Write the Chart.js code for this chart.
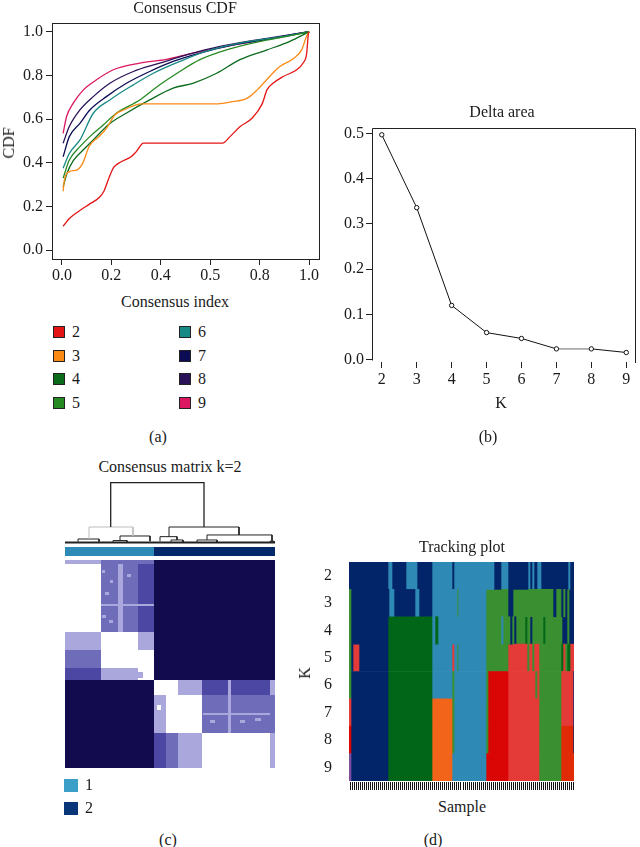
<!DOCTYPE html>
<html>
<head>
<meta charset="utf-8">
<script src="https://cdn.jsdelivr.net/npm/chart.js@4.4.0/dist/chart.umd.min.js"></script>
<style>
  body { margin: 0; background: #fff; width: 640px; height: 847px; position: relative; overflow: hidden;
         font-family: "Liberation Serif", "DejaVu Serif", serif; color: #1a1a1a; }
  canvas { position: absolute; }
  .t { position: absolute; font-size: 16px; white-space: nowrap; transform: translate(-50%, -50%); line-height: 1; }
  .sw { position: absolute; box-sizing: border-box; }
</style>
</head>
<body>

<canvas id="cdfChart" width="330" height="290" style="left:0;top:0"></canvas>
<canvas id="deltaChart" width="310" height="320" style="left:330px;top:100px"></canvas>
<canvas id="dendChart" width="210" height="68" style="left:65px;top:478px"></canvas>
<canvas id="heatChart" width="210" height="225" style="left:65px;top:545px"></canvas>
<canvas id="trackChart" width="330" height="240" style="left:310px;top:555px"></canvas>

<div class="t" style="left:185px;top:8px">Consensus CDF</div>
<div class="t" style="left:9px;top:143px;transform:translate(-50%,-50%) rotate(-90deg)">CDF</div>
<div class="t" style="left:175px;top:302px">Consensus index</div>
<div class="t" style="left:158px;top:437px">(a)</div>

<div class="t" style="left:502px;top:112px">Delta area</div>
<div class="t" style="left:501px;top:403px">K</div>
<div class="t" style="left:488px;top:437px">(b)</div>

<div class="t" style="left:170px;top:467px">Consensus matrix k=2</div>
<div class="t" style="left:168px;top:840px">(c)</div>

<div class="t" style="left:462px;top:547px">Tracking plot</div>
<div class="t" style="left:305px;top:673px;transform:translate(-50%,-50%) rotate(-90deg)">K</div>
<div class="t" style="left:462px;top:807px">Sample</div>
<div class="t" style="left:433px;top:840px">(d)</div>

<div id="legendA"></div>
<div id="legendC"></div>

<script>
// ---- panel (a): consensus CDF, [consensus index, CDF]
const kLabels = ['2', '3', '4', '5', '6', '7', '8', '9'];
const cdfColors = ['#e41414', '#fb8a14', '#0b6b1d', '#258a22', '#178a85', '#0c0c55', '#2a1259', '#dc1660'];

const cdf2 = [[0.005,0.11],[0.03,0.145],[0.07,0.18],[0.11,0.21],[0.15,0.24],[0.17,0.27],[0.19,0.33],[0.21,0.38],
  [0.24,0.405],[0.28,0.428],[0.30,0.45],[0.33,0.49],[0.65,0.49],[0.68,0.52],[0.72,0.565],[0.77,0.605],[0.81,0.67],
  [0.83,0.735],[0.855,0.765],[0.895,0.795],[0.95,0.826],[0.975,0.856],[0.99,0.90],[0.997,0.99],[1,1]];
const cdf3 = [[0.005,0.27],[0.01,0.32],[0.03,0.36],[0.06,0.367],[0.085,0.40],[0.11,0.475],[0.15,0.52],[0.18,0.558],
  [0.215,0.62],[0.25,0.642],[0.30,0.665],[0.32,0.67],[0.63,0.67],[0.69,0.68],[0.75,0.696],[0.79,0.734],[0.84,0.795],
  [0.88,0.84],[0.94,0.88],[0.97,0.917],[0.99,0.98],[1,1]];
const cdf4 = [[0.005,0.29],[0.02,0.35],[0.046,0.41],[0.087,0.46],[0.127,0.505],[0.194,0.58],[0.26,0.627],[0.355,0.688],
  [0.45,0.742],[0.53,0.764],[0.626,0.81],[0.72,0.872],[0.83,0.917],[0.92,0.955],[1,1]];
const cdf5 = [[0.005,0.33],[0.03,0.413],[0.073,0.474],[0.113,0.52],[0.167,0.573],[0.22,0.627],[0.315,0.688],[0.396,0.757],
  [0.477,0.818],[0.558,0.872],[0.666,0.917],[0.80,0.955],[0.91,0.979],[1,1]];
const cdf6 = [[0.005,0.375],[0.03,0.443],[0.073,0.505],[0.127,0.627],[0.194,0.688],[0.289,0.757],[0.37,0.81],[0.477,0.864],
  [0.585,0.911],[0.72,0.948],[0.896,0.979],[1,1]];
const cdf7 = [[0.005,0.428],[0.03,0.52],[0.073,0.581],[0.113,0.642],[0.18,0.703],[0.261,0.764],[0.355,0.818],[0.45,0.864],
  [0.558,0.902],[0.694,0.94],[0.855,0.97],[1,1]];
const cdf8 = [[0.005,0.49],[0.03,0.566],[0.073,0.642],[0.127,0.703],[0.194,0.764],[0.289,0.818],[0.396,0.856],[0.504,0.894],
  [0.64,0.933],[0.83,0.97],[1,1]];
const cdf9 = [[0.005,0.535],[0.019,0.612],[0.046,0.673],[0.087,0.734],[0.14,0.78],[0.208,0.826],[0.315,0.856],[0.423,0.874],
  [0.531,0.902],[0.666,0.933],[0.83,0.966],[1,1]];
const cdfSeries = [cdf2, cdf3, cdf4, cdf5, cdf6, cdf7, cdf8, cdf9];
const cdfXTicks = [0, 0.2, 0.4, 0.6, 0.8, 1.0];
const cdfXTickLabels = ['0.0', '0.2', '0.4', '0.5', '0.8', '1.0'];
const cdfYTicks = [0, 0.2, 0.4, 0.6, 0.8, 1.0];

// ---- panel (b): delta area
const deltaK = [2, 3, 4, 5, 6, 7, 8, 9];
const deltaArea = [0.497, 0.336, 0.12, 0.06, 0.047, 0.024, 0.024, 0.016];
const deltaYTicks = [0, 0.1, 0.2, 0.3, 0.4, 0.5];

// ---- panel (c): consensus matrix, blocks in sample order
const clusterLabels = ['1', '2'];
const clusterColors = ['#2e8bb8', '#04296a'];
const clusterLegendColors = ['#3c9fc8', '#083679'];
const clusterBreaks = [0, 89, 210];
const heatColBreaks = [0, 36, 73, 89, 101, 113, 137, 205, 210];
const heatRowBreaks = [0, 4, 72, 90, 108, 120, 135, 173, 208];
// consensus level per block: 0 none .. 4 full
const heatLevels = [
  [1, 2, 2, 4, 4, 4, 4, 4],
  [0, 2, 3, 4, 4, 4, 4, 4],
  [1, 0, 1, 4, 4, 4, 4, 4],
  [2, 0, 0, 4, 4, 4, 4, 4],
  [3, 1, 0, 4, 4, 4, 4, 4],
  [4, 4, 4, 0, 0, 1, 3, 1],
  [4, 4, 4, 1, 0, 0, 2, 2],
  [4, 4, 4, 3, 2, 1, 0, 1]
];
// small patches inside blocks: [x0, x1, y0, y1, level]
const heatPatches = [
  [53, 58, 4, 72, 1], [36, 89, 44, 46, 1], [37, 40, 10, 13, 1], [45, 48, 20, 23, 1], [37, 41, 55, 58, 1],
  [44, 48, 60, 63, 1], [40, 44, 32, 35, 1], [62, 66, 14, 17, 1], [138, 205, 153, 155, 1], [163, 166, 120, 173, 1],
  [145, 150, 160, 163, 1], [175, 180, 160, 163, 1], [190, 196, 158, 161, 1], [92, 96, 145, 150, 0], [70, 78, 112, 118, 1]
];
const heatLevelColors = ['#ffffff', '#a9a7dc', '#6f6cba', '#4b47a2', '#120c4f'];
// dendrogram merges: [xLeft, xRight, height, leftChildHeight, rightChildHeight]
const dendMerges = [
  [45.7, 139, 1.0, 0.265, 0.265],
  [24, 68, 0.265, 0.066, 0.116],
  [104, 174, 0.265, 0.105, 0.133],
  [13, 34, 0.066, 0.02, 0.02],
  [55, 85, 0.116, 0.04, 0.03],
  [48, 62, 0.04, 0.01, 0.01],
  [95, 112, 0.105, 0.03, 0.05],
  [106, 118, 0.05, 0.02, 0.01],
  [142, 207, 0.133, 0.05, 0.03],
  [132, 152, 0.05, 0.01, 0.01],
  [205, 209, 0.03, 0.01, 0.01]
];
const dendGrey = [false, true, false, false, false, false, false, false, false, false, false];

// ---- panel (d): tracking plot, runs of cluster membership along sample order
const trackColors = { N: '#02256a', B: '#2e89b4', G: '#026618', g: '#3a8f30', O: '#f26419',
                      R: '#da0505', r: '#e43a38', Q: '#e12a06', P: '#7b4f9d' };
const sampleCount = 112;
const trackSegments = [
  [[0,39,'N'],[39,43,'B'],[43,57,'N'],[57,68,'B'],[68,83,'N'],[83,103,'B'],[103,105,'N'],[105,145,'B'],[145,152,'N'],
   [152,159,'B'],[159,179,'N'],[179,181,'B'],[181,183,'N'],[183,185,'B'],[185,188,'N'],[188,192,'B'],[192,219,'N'],
   [219,221,'B'],[221,225,'N']],
  [[0,2,'g'],[2,40,'N'],[40,45,'B'],[45,66,'N'],[66,70,'B'],[70,83,'N'],[83,108,'B'],[108,109,'g'],[109,137,'B'],
   [137,159,'g'],[159,164,'N'],[164,204,'g'],[204,207,'N'],[207,212,'g'],[212,214,'N'],[214,216,'g'],[216,218,'N'],
   [218,220,'g'],[220,225,'N']],
  [[0,2,'g'],[2,39,'N'],[39,83,'G'],[83,86,'B'],[86,89,'G'],[89,137,'B'],[137,152,'g'],[152,154,'B'],[154,161,'g'],
   [161,163,'N'],[163,165,'g'],[165,167,'N'],[167,176,'g'],[176,178,'G'],[178,181,'g'],[181,183,'N'],[183,194,'g'],
   [194,196,'G'],[196,213,'g'],[213,218,'N'],[218,220,'g'],[220,225,'N']],
  [[0,2,'g'],[2,4,'N'],[4,10,'r'],[10,39,'N'],[39,83,'G'],[83,103,'B'],[103,105,'r'],[105,108,'B'],[108,109,'g'],
   [109,137,'B'],[137,159,'g'],[159,178,'r'],[178,180,'g'],[180,183,'r'],[183,185,'g'],[185,190,'r'],[190,212,'g'],
   [212,214,'G'],[214,216,'r'],[216,218,'g'],[218,221,'G'],[221,225,'r']],
  [[0,2,'g'],[2,39,'N'],[39,83,'G'],[83,103,'B'],[103,105,'g'],[105,137,'B'],[137,139,'g'],[139,159,'R'],[159,186,'r'],
   [186,188,'g'],[188,190,'r'],[190,212,'g'],[212,224,'r'],[224,225,'N']],
  [[0,2,'r'],[2,39,'N'],[39,83,'G'],[83,103,'O'],[103,105,'g'],[105,137,'B'],[137,139,'g'],[139,159,'R'],[159,190,'r'],
   [190,212,'g'],[212,224,'r'],[224,225,'N']],
  [[0,2,'R'],[2,39,'N'],[39,83,'G'],[83,103,'O'],[103,105,'g'],[105,137,'B'],[137,139,'g'],[139,159,'R'],[159,190,'r'],
   [190,212,'g'],[212,224,'Q'],[224,225,'N']],
  [[0,2,'P'],[2,39,'N'],[39,83,'G'],[83,103,'O'],[103,137,'B'],[137,159,'R'],[159,190,'r'],[190,212,'g'],[212,225,'Q']]
];
const trackMax = 225;

const serif = "'Liberation Serif', 'DejaVu Serif', serif";
const tickFont = { family: serif, size: 16 };
const ink = '#1a1a1a';

// keep chart areas where the layout padding puts them
const fitY = w => s => { s.width = w; s.paddingTop = 0; s.paddingBottom = 0; };
const fitX = h => s => { s.height = h; s.paddingLeft = 0; s.paddingRight = 0; };

// legends
const legA = document.getElementById('legendA');
kLabels.forEach((k, i) => {
  const col = Math.floor(i / 4), row = i % 4;
  const x = 53 + col * 126, y = 326 + row * 23.6;
  legA.insertAdjacentHTML('beforeend',
    `<div class="sw" style="left:${x}px;top:${y}px;width:12px;height:12px;border:1px solid #222;background:${cdfColors[i]}"></div>` +
    `<div class="t" style="left:${x + 23}px;top:${y + 6}px">${k}</div>`);
});
const legC = document.getElementById('legendC');
clusterLabels.forEach((k, i) => {
  const y = 779 + i * 23;
  legC.insertAdjacentHTML('beforeend',
    `<div class="sw" style="left:64px;top:${y}px;width:14px;height:13px;background:${clusterLegendColors[i]}"></div>` +
    `<div class="t" style="left:89px;top:${y + 6}px">${k}</div>`);
});

const boxPlugin = {
  id: 'box',
  afterDraw(chart) {
    const { ctx, chartArea: a } = chart;
    ctx.save();
    ctx.strokeStyle = '#222';
    ctx.lineWidth = 1;
    ctx.strokeRect(Math.round(a.left) + 0.5, Math.round(a.top) + 0.5, Math.round(a.right - a.left), Math.round(a.bottom - a.top));
    ctx.restore();
  }
};

// (a)
new Chart(document.getElementById('cdfChart'), {
  type: 'scatter',
  data: {
    datasets: cdfSeries.map((pts, i) => ({
      label: kLabels[i],
      data: pts.map(p => ({ x: p[0], y: p[1] })),
      showLine: true,
      borderColor: cdfColors[i],
      borderWidth: 1.3,
      pointRadius: 0,
      cubicInterpolationMode: 'monotone'
    }))
  },
  options: {
    responsive: false,
    animation: false,
    layout: { padding: { top: 23, right: 11, bottom: 6, left: 0 } },
    plugins: { legend: { display: false }, tooltip: { enabled: false } },
    scales: {
      x: {
        type: 'linear', min: -0.04, max: 1.04,
        afterBuildTicks: s => { s.ticks = cdfXTicks.map(v => ({ value: v })); },
        afterFit: fitX(25),
        grid: { drawOnChartArea: false, tickLength: 6, color: '#222' },
        border: { display: false },
        ticks: { callback: (v, i) => cdfXTickLabels[i], color: ink, font: tickFont, padding: 1, maxRotation: 0 }
      },
      y: {
        type: 'linear', min: -0.04, max: 1.04,
        afterBuildTicks: s => { s.ticks = cdfYTicks.map(v => ({ value: v })); },
        afterFit: fitY(52),
        grid: { drawOnChartArea: false, tickLength: 6, color: '#222' },
        border: { display: false },
        ticks: { callback: v => v.toFixed(1), color: ink, font: tickFont, padding: 3 }
      }
    }
  },
  plugins: [boxPlugin]
});

// (b)
const frameB = {
  id: 'frameB',
  afterDraw(chart) {
    const { ctx, chartArea: a, scales: { y } } = chart;
    const l = Math.round(a.left) + 0.5, t = Math.round(a.top) + 0.5, r = Math.round(a.right) + 0.5;
    ctx.save();
    ctx.strokeStyle = '#222';
    ctx.lineWidth = 1;
    ctx.beginPath();
    ctx.moveTo(l, Math.round(y.getPixelForValue(0)) + 0.5);
    ctx.lineTo(l, t);
    ctx.lineTo(r, t);
    ctx.lineTo(r, Math.round(a.bottom) + 1);
    ctx.stroke();
    ctx.restore();
  }
};
new Chart(document.getElementById('deltaChart'), {
  type: 'scatter',
  data: {
    datasets: [{
      data: deltaK.map((k, i) => ({ x: k, y: deltaArea[i] })),
      showLine: true,
      borderColor: '#111',
      borderWidth: 1,
      segment: { borderColor: c => (c.p0DataIndex === 5 ? '#aaa' : '#111'), borderWidth: c => (c.p0DataIndex === 5 ? 1.6 : 1) },
      pointRadius: 2.2,
      pointBackgroundColor: '#fff',
      pointBorderColor: '#111',
      pointBorderWidth: 1
    }]
  },
  options: {
    responsive: false,
    animation: false,
    layout: { padding: { top: 28, right: 3, bottom: 0, left: 0 } },
    plugins: { legend: { display: false }, tooltip: { enabled: false } },
    scales: {
      x: {
        type: 'linear', min: 1.72, max: 9.25,
        afterBuildTicks: s => { s.ticks = deltaK.map(v => ({ value: v })); },
        afterFit: fitX(58),
        grid: { drawOnChartArea: false, tickLength: 6, color: '#222' },
        border: { display: false },
        ticks: { color: ink, font: tickFont, padding: 2, maxRotation: 0 }
      },
      y: {
        type: 'linear', min: -0.005, max: 0.512,
        afterBuildTicks: s => { s.ticks = deltaYTicks.map(v => ({ value: v })); },
        afterFit: fitY(42),
        grid: { drawOnChartArea: false, tickLength: 6, color: '#222' },
        border: { display: false },
        ticks: { callback: v => v.toFixed(1), color: ink, font: tickFont, padding: 2 }
      }
    }
  },
  plugins: [frameB]
});

// (c) dendrogram
new Chart(document.getElementById('dendChart'), {
  type: 'scatter',
  data: {
    datasets: dendMerges.map((m, i) => ({
      data: [{ x: m[0], y: m[3] }, { x: m[0], y: m[2] }, { x: m[1], y: m[2] }, { x: m[1], y: m[4] }],
      showLine: true,
      borderColor: dendGrey[i] ? '#bdbdbd' : '#222',
      borderWidth: i === 0 ? 1.3 : 1,
      pointRadius: 0
    })).concat([{
      data: [{ x: clusterBreaks[0], y: 0.01 }, { x: clusterBreaks[2], y: 0.01 }],
      showLine: true, borderColor: '#222', borderWidth: 2, pointRadius: 0
    }])
  },
  options: {
    responsive: false,
    animation: false,
    plugins: { legend: { display: false }, tooltip: { enabled: false } },
    scales: {
      x: { type: 'linear', min: 0, max: 210, display: false },
      y: { type: 'linear', min: -0.05, max: 1.078, display: false }
    }
  }
});

// (c) heatmap + cluster bar
const heatPlugin = {
  id: 'heat',
  afterDatasetsDraw(chart) {
    const { ctx, scales: { x, y } } = chart;
    const rect = (x0, x1, y0, y1, color) => {
      const px0 = x.getPixelForValue(x0), px1 = x.getPixelForValue(x1);
      const py0 = y.getPixelForValue(y0), py1 = y.getPixelForValue(y1);
      ctx.fillStyle = color;
      ctx.fillRect(px0, py0, px1 - px0, py1 - py0);
    };
    ctx.save();
    for (let r = 0; r < heatLevels.length; r++) {
      for (let c = 0; c < heatLevels[r].length; c++) {
        rect(heatColBreaks[c], heatColBreaks[c + 1], heatRowBreaks[r], heatRowBreaks[r + 1], heatLevelColors[heatLevels[r][c]]);
      }
    }
    heatPatches.forEach(p => rect(p[0], p[1], p[2], p[3], heatLevelColors[p[4]]));
    for (let c = 0; c < clusterColors.length; c++) {
      rect(clusterBreaks[c], clusterBreaks[c + 1], -13, -4, clusterColors[c]);
    }
    ctx.restore();
  }
};
new Chart(document.getElementById('heatChart'), {
  type: 'scatter',
  data: { datasets: [{ data: [] }] },
  options: {
    responsive: false,
    animation: false,
    plugins: { legend: { display: false }, tooltip: { enabled: false } },
    scales: {
      x: { type: 'linear', min: 0, max: 210, display: false },
      y: { type: 'linear', min: -15, max: 210, reverse: true, display: false }
    }
  },
  plugins: [heatPlugin]
});

// (d) tracking plot
const maxSeg = Math.max(...trackSegments.map(r => r.length));
const trackDatasets = [];
for (let j = 0; j < maxSeg; j++) {
  trackDatasets.push({
    data: trackSegments.map(r => (r[j] ? [r[j][0], r[j][1]] : null)),
    backgroundColor: trackSegments.map(r => (r[j] ? trackColors[r[j][2]] : 'rgba(0,0,0,0)')),
    barPercentage: 1,
    categoryPercentage: 1,
    grouped: false,
    borderWidth: 0
  });
}
const rugPlugin = {
  id: 'rug',
  afterDraw(chart) {
    const { ctx, chartArea: a, scales: { x } } = chart;
    const step = trackMax / sampleCount;
    ctx.save();
    ctx.strokeStyle = '#111';
    ctx.lineWidth = 1;
    ctx.beginPath();
    for (let i = 0; i < sampleCount; i++) {
      const px = Math.round(x.getPixelForValue((i + 0.5) * step)) + 0.5;
      ctx.moveTo(px, a.bottom + 1);
      ctx.lineTo(px, a.bottom + 9);
    }
    ctx.stroke();
    ctx.restore();
  }
};
new Chart(document.getElementById('trackChart'), {
  type: 'bar',
  data: { labels: kLabels, datasets: trackDatasets },
  options: {
    indexAxis: 'y',
    responsive: false,
    animation: false,
    layout: { padding: { top: 7, right: 66, bottom: 14, left: 0 } },
    plugins: { legend: { display: false }, tooltip: { enabled: false } },
    scales: {
      x: { type: 'linear', min: 0, max: trackMax, display: false },
      y: {
        afterFit: fitY(39),
        grid: { display: false },
        border: { display: false },
        ticks: { color: ink, font: tickFont, padding: 9 }
      }
    }
  },
  plugins: [rugPlugin]
});
</script>
</body>
</html>
